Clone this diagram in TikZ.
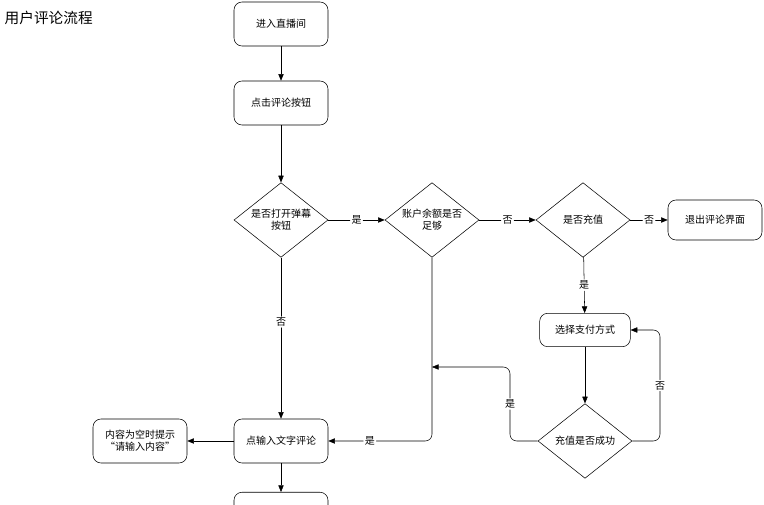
\documentclass[tikz,border=0pt]{standalone}
\usepackage{fontspec}
\setmainfont{Liberation Serif}
\newfontfamily\cjk{Noto Sans CJK SC}
\usetikzlibrary{shapes.geometric,arrows.meta}
\begin{document}
\begin{tikzpicture}[x=0.75pt,y=-0.75pt,font=\cjk\fontsize{7.5}{9}\selectfont,
  box/.style={draw,rounded corners=6pt,minimum width=70.5pt,minimum height=33pt,align=center,inner sep=1pt},
  dia/.style={draw,diamond,aspect=1.25,minimum width=70.5pt,minimum height=56pt,inner sep=0pt,align=center},
  ar/.style={draw,-{Triangle[length=5pt,width=4pt]},rounded corners=5pt},
  lb/.style={fill=white,inner sep=1pt}]
\useasboundingbox (0,0) rectangle (764,505);
\node[anchor=west,font=\cjk\fontsize{11}{13}\selectfont] (title) at (0,18) {用户评论流程};
\node[box] (enter) at (281,24) {进入直播间};
\node[box] (click) at (281,103) {点击评论按钮};
\node[dia] (d1) at (281,220) {是否打开弹幕\\按钮};
\node[dia] (d2) at (432,220) {账户余额是否\\足够};
\node[dia] (d3) at (583,220) {是否充值};
\node[box,minimum height=30pt] (exit) at (715,220) {退出评论界面};
\node[box,minimum width=68pt,minimum height=25pt] (pay) at (585,330) {选择支付方式};
\node[dia] (d4) at (585,441) {充值是否成功};
\node[box] (input) at (281,441) {点输入文字评论};
\node[box] (empty) at (140,441) {内容为空时提示\\“请输入内容”};
\node[box,anchor=north] (next) at (281,492) {};
\coordinate (j1) at (432,367);
\draw[ar] (enter) -- (click);
\draw[ar] (click) -- (d1);
\draw[ar] (d1) -- node[lb]{是} (d2);
\draw[ar] (d2) -- node[lb]{否} (d3);
\draw[ar] (d3) -- node[lb]{否} (exit);
\draw[ar] (d3) -- node[lb]{是} (pay);
\draw[ar] (d1) -- node[lb,pos=0.4]{否} (input);
\draw[ar] (d2.south) |- node[lb,pos=0.8]{是} (input.east);
\draw[ar] (pay) -- (d4);
\draw[ar] (d4.west) -| (510,367) node[lb,pos=0.75]{是} -- (j1);
\draw[ar] (d4.east) -| (660,330) node[lb,pos=0.75]{否} -- (pay.east);
\draw[ar] (input) -- (empty);
\draw[ar] (input) -- (next);
\end{tikzpicture}
\end{document}
